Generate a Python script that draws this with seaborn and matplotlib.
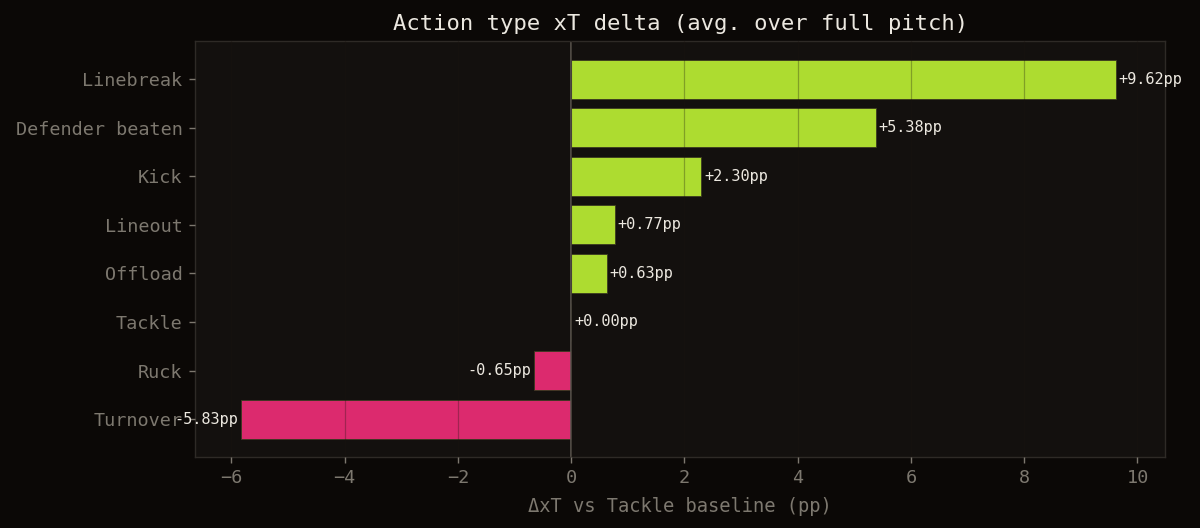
import pandas as pd
import numpy as np
import matplotlib
matplotlib.use('Agg')
import matplotlib.pyplot as plt
import seaborn as sns

# dados
acoes = ['Linebreak', 'Defender beaten', 'Kick', 'Lineout', 'Offload', 'Tackle', 'Ruck', 'Turnover']
delta_xt = [9.62, 5.38, 2.30, 0.77, 0.63, 0.00, -0.65, -5.83]

df = pd.DataFrame({'acao': acoes, 'delta': delta_xt})
df['sinal'] = np.where(df['delta'] >= 0, 'pos', 'neg')

fig_bg = '#0b0806'
ax_bg = '#13100e'
verde = '#addc30'
rosa = '#dc2a6e'
cor_tick = '#7d786f'

sns.set_theme(style='dark')
plt.rcParams['font.family'] = ['DejaVu Sans Mono']

fig, ax = plt.subplots(figsize=(12, 5.28), dpi=100)
fig.patch.set_facecolor(fig_bg)
ax.set_facecolor(ax_bg)

sns.barplot(data=df, y='acao', x='delta', hue='sinal', order=acoes,
            palette={'pos': verde, 'neg': rosa}, dodge=False, legend=False,
            saturation=1, width=0.8, edgecolor='#3a3a20', linewidth=0.6, ax=ax)

ax.axvline(0, color='#5e5952', lw=1.2, zorder=1)
ax.grid(axis='x', color='#1a1410', alpha=0.3, lw=0.9)
ax.set_axisbelow(False)

for i, v in enumerate(delta_xt):
    txt = f'{v:+.2f}pp'
    if v >= 0:
        ax.text(v + 0.05, i, txt, va='center', ha='left', color='#ece8e0', fontsize=11)
    else:
        ax.text(v - 0.05, i, txt, va='center', ha='right', color='#ece8e0', fontsize=11)

ax.set_xlim(-6.64, 10.49)
ax.set_ylim(7.78, -0.78)
ax.set_title('Action type xT delta (avg. over full pitch)', color='#ece8e0', fontsize=16, pad=8)
ax.set_xlabel('ΔxT vs Tackle baseline (pp)', color=cor_tick, fontsize=13.5, labelpad=7)
ax.set_ylabel('')
ax.tick_params(axis='both', colors=cor_tick, labelsize=13.3, length=4, width=1,
               bottom=True, left=True, pad=5)
for s in ax.spines.values():
    s.set_color('#2e2a26')
    s.set_linewidth(1)

plt.subplots_adjust(left=0.1625, right=0.971, top=0.922, bottom=0.1345)
plt.savefig('out.png', facecolor=fig_bg)
